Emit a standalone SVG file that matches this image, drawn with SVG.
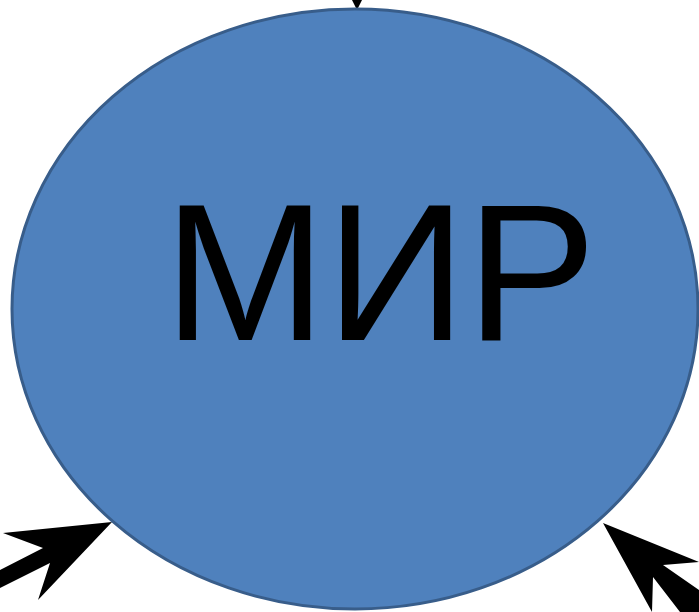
<svg xmlns="http://www.w3.org/2000/svg" width="699" height="612" viewBox="0 0 699 612">
<style>
.arrow{fill:#000000;}
.node{fill:#4f81bd;stroke:#385d8a;stroke-width:3;}
.label{font-family:"Liberation Sans",Arial,sans-serif;font-size:195px;fill:#000000;}
</style>
<rect width="699" height="612" fill="#ffffff"/>
<g id="connectors">
<polygon class="arrow" points="352,0 362,0 357,10"/>
<polygon class="arrow" points="112,522 3,533 43,548 0,570 0,588 50,563 38,600"/>
<polygon class="arrow" points="603,523 699,562 663,565 699,590 699,612 680,612 653,577 652,612"/>
</g>
<g id="node-mir">
<ellipse class="node" cx="355" cy="309" rx="343" ry="300"/>
<text class="label" x="380" y="340" text-anchor="middle">МИР</text>
</g>
</svg>
